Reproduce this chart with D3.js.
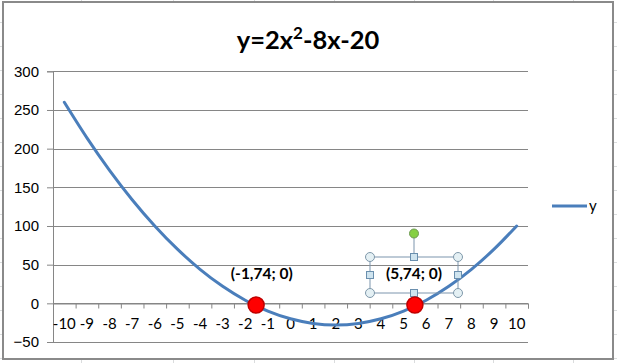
<!DOCTYPE html>
<html>
<head>
<meta charset="utf-8">
<script src="https://cdn.jsdelivr.net/npm/d3@7"></script>
<style>
  html, body { margin: 0; padding: 0; background: #fff; }
  svg { display: block; font-family: Lato, "Open Sans", sans-serif; }
</style>
</head>
<body>
<svg id="chart" width="617" height="363"></svg>
<script>
// chart data
var xValues = [-10, -9, -8, -7, -6, -5, -4, -3, -2, -1, 0, 1, 2, 3, 4, 5, 6, 7, 8, 9, 10];
var yValues = [260, 214, 172, 134, 100, 70, 44, 22, 4, -10, -20, -26, -28, -26, -20, -10, 4, 22, 44, 70, 100];
var yTicks = [-50, 0, 50, 100, 150, 200, 250, 300];
var seriesName = "y";

// hand placed annotations (roots)
var rootLabels = ["(-1,74; 0)", "(5,74; 0)"];
var rootMarkX = [-1.52, 5.5];
var rootMarkY = [-2.2, -2.2];
var rootLabelX = [-1.27, 5.46];
var rootLabelY = [38.8, 38.8];

var svg = d3.select("#chart");
var W = 617, H = 363;

// spreadsheet grid behind the chart object
var sheetCols = [81, 173, 254, 334, 414, 493, 573];
var sheetRows = d3.range(22, H, 24);
var sheet = svg.append("g").attr("stroke", "#dadcdd").attr("stroke-width", 1);
sheet.selectAll("line.c").data(sheetCols).enter().append("line")
    .attr("x1", function(d) { return d + 0.5; }).attr("x2", function(d) { return d + 0.5; })
    .attr("y1", 0).attr("y2", H);
sheet.selectAll("line.r").data(sheetRows).enter().append("line")
    .attr("x1", 0).attr("x2", W)
    .attr("y1", function(d) { return d + 0.5; }).attr("y2", function(d) { return d + 0.5; });

// chart frame
svg.append("rect")
    .attr("x", 3).attr("y", 2).attr("width", 610).attr("height", 357)
    .attr("fill", "#fff").attr("stroke", "#8a8a8a").attr("stroke-width", 2);

var plot = { left: 53, right: 528, top: 71.3, bottom: 342 };

var x = d3.scaleLinear().domain([-10.5, 10.5]).range([plot.left, plot.right]);
var y = d3.scaleLinear().domain([-50, 300]).range([plot.bottom, plot.top]);

// horizontal gridlines + y axis
var yAxis = d3.axisLeft(y).tickValues(yTicks).tickSize(6).tickPadding(8);
var gy = svg.append("g").attr("transform", "translate(" + plot.left + ",0)").call(yAxis);
gy.select(".domain").attr("stroke", "#868686");
gy.selectAll(".tick line").attr("stroke", "#868686");
gy.selectAll(".tick text").attr("font-size", 15).attr("fill", "#000");

svg.append("g").selectAll("line").data(yTicks).enter().append("line")
    .attr("x1", plot.left).attr("x2", plot.right)
    .attr("y1", function(d) { return Math.round(y(d)) + 0.5; })
    .attr("y2", function(d) { return Math.round(y(d)) + 0.5; })
    .attr("stroke", "#868686").attr("stroke-width", 1);

// category axis crossing at y = 0, ticks between categories
var bounds = xValues.map(function(d) { return d - 0.5; }).concat([10.5]);
var xAxis = d3.axisBottom(x).tickValues(bounds).tickSize(5).tickFormat("");
var gx = svg.append("g").attr("transform", "translate(0," + (Math.round(y(0)) + 0.5) + ")").call(xAxis);
gx.select(".domain").attr("stroke", "#868686");
gx.selectAll(".tick line").attr("stroke", "#868686");

svg.append("g").selectAll("text").data(xValues).enter().append("text")
    .attr("x", function(d) { return x(d); })
    .attr("y", y(0) + 26)
    .attr("text-anchor", "middle")
    .attr("font-size", 15)
    .text(function(d) { return d; });

// series line (smoothed, like the spreadsheet)
var pts = xValues.map(function(d, i) { return [d, yValues[i]]; });
var line = d3.line()
    .x(function(d) { return x(d[0]); })
    .y(function(d) { return y(d[1]); })
    .curve(d3.curveCardinal.tension(0));
svg.append("path").datum(pts)
    .attr("d", line)
    .attr("fill", "none")
    .attr("stroke", "#4a7ebb")
    .attr("stroke-width", 3)
    .attr("stroke-linecap", "round");

// title
var title = svg.append("text")
    .attr("x", 308).attr("y", 49)
    .attr("text-anchor", "middle")
    .attr("font-size", 25.5).attr("font-weight", "bold");
title.append("tspan").text("y=2x");
title.append("tspan").attr("font-size", 17).attr("dy", -10).text("2");
title.append("tspan").attr("dy", 10).text("-8x-20");

// legend
svg.append("line")
    .attr("x1", 552).attr("x2", 587).attr("y1", 206).attr("y2", 206)
    .attr("stroke", "#4a7ebb").attr("stroke-width", 3);
svg.append("text").attr("x", 589).attr("y", 211).attr("font-size", 15).text(seriesName);

// root labels
svg.append("g").selectAll("text").data(rootLabels).enter().append("text")
    .attr("x", function(d, i) { return x(rootLabelX[i]); })
    .attr("y", function(d, i) { return y(rootLabelY[i]) + 5.5; })
    .attr("text-anchor", "middle")
    .attr("font-size", 15.5).attr("font-weight", "bold")
    .text(function(d) { return d; });

// selection handles around the second label
var sel = { x0: 370, x1: 458, y0: 257, y1: 293 };
var mx = (sel.x0 + sel.x1) / 2, my = (sel.y0 + sel.y1) / 2;
var hs = svg.append("g");
hs.append("rect").attr("x", sel.x0).attr("y", sel.y0)
    .attr("width", sel.x1 - sel.x0).attr("height", sel.y1 - sel.y0)
    .attr("fill", "none").attr("stroke", "#7d95ad").attr("stroke-width", 1);
hs.append("line").attr("x1", mx).attr("x2", mx).attr("y1", 234).attr("y2", sel.y0)
    .attr("stroke", "#7d95ad");
var corners = [[sel.x0, sel.y0], [sel.x1, sel.y0], [sel.x0, sel.y1], [sel.x1, sel.y1]];
hs.selectAll("circle.c").data(corners).enter().append("circle")
    .attr("cx", function(d) { return d[0]; }).attr("cy", function(d) { return d[1]; })
    .attr("r", 4.5).attr("fill", "#e4f0f4").attr("stroke", "#7f98aa");
var sides = [[mx, sel.y0], [mx, sel.y1], [sel.x0, my], [sel.x1, my]];
hs.selectAll("rect.s").data(sides).enter().append("rect")
    .attr("x", function(d) { return d[0] - 3.5; }).attr("y", function(d) { return d[1] - 3.5; })
    .attr("width", 7).attr("height", 7)
    .attr("fill", "#cfe4ef").attr("stroke", "#6a8fae");
hs.append("circle").attr("cx", mx).attr("cy", 233.5).attr("r", 4.5)
    .attr("fill", "#86d044").attr("stroke", "#6e9a52");

// root markers
svg.append("g").selectAll("circle").data(rootMarkX).enter().append("circle")
    .attr("cx", function(d) { return x(d); })
    .attr("cy", function(d, i) { return y(rootMarkY[i]); })
    .attr("r", 8)
    .attr("fill", "#ff0000")
    .attr("stroke", "#c00000").attr("stroke-width", 1.5);
</script>
</body>
</html>
